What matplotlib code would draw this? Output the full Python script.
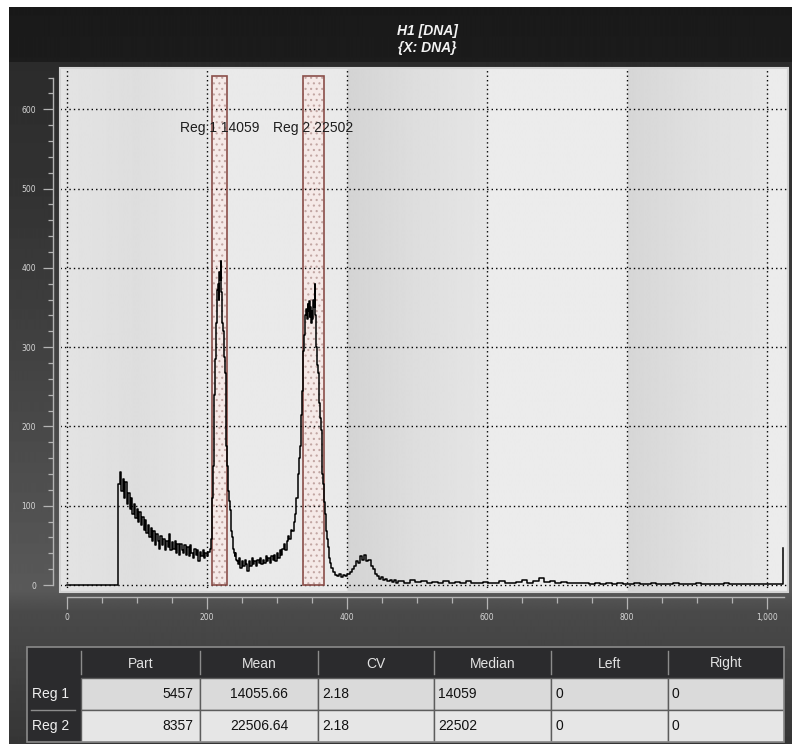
import numpy as np
import matplotlib
matplotlib.use("Agg")
import matplotlib.pyplot as plt
from matplotlib.patches import Rectangle
from matplotlib.ticker import MultipleLocator, FuncFormatter

# ---- data ------------------------------------------------------------------
# DNA histogram, channel -> count (step histogram)
ch_zero = [0]
cnt_zero = [0]

ch_a = list(range(74, 206, 2))
cnt_a = [128, 142, 118, 134, 110, 130, 102, 116, 96, 110,
         90, 102, 84, 96, 80, 92, 76, 86, 70, 82,
         66, 76, 60, 72, 56, 68, 50, 64, 56, 46,
         62, 50, 58, 44, 56, 48, 64, 44, 54, 46,
         56, 40, 52, 38, 52, 44, 40, 50, 38, 48,
         36, 50, 40, 34, 46, 38, 44, 30, 42, 36,
         44, 34, 40, 36, 42, 46]

ch_b = list(range(206, 244))
cnt_b = [58, 75, 110, 150, 200, 240, 285, 330, 365, 372,
         380, 360, 395, 385, 408, 370, 330, 320, 305, 288,
         268, 230, 175, 150, 128, 118, 106, 95, 80, 68,
         60, 52, 46, 40, 36, 40, 32, 30]

ch_c = list(range(244, 333, 2))
cnt_c = [26, 34, 22, 30, 24, 32, 26, 18, 30, 24,
         34, 26, 30, 24, 32, 28, 34, 26, 32, 28,
         36, 30, 34, 28, 36, 32, 38, 30, 40, 34,
         44, 38, 46, 52, 44, 56, 62, 58, 70, 68,
         80, 90, 110, 140, 160]

ch_d = list(range(333, 377))
cnt_d = [175, 190, 215, 245, 270, 295, 315, 330, 340, 348,
         335, 355, 345, 358, 338, 350, 330, 345, 335, 360,
         350, 380, 340, 300, 290, 278, 268, 250, 230, 210,
         195, 170, 140, 128, 118, 105, 90, 78, 68, 58,
         48, 40, 34, 28]

ch_e = list(range(377, 474, 3))
cnt_e = [22, 16, 13, 12, 14, 10, 13, 11, 14, 16,
         20, 24, 30, 28, 36, 32, 38, 30, 32, 24,
         20, 14, 12, 8, 10, 6, 8, 5, 6, 4,
         6, 3, 5]

ch_f = list(range(474, 1022, 8))
cnt_f = [5, 3, 6, 4, 5, 2, 4, 3, 5, 2,
         4, 3, 5, 2, 3, 4, 2, 3, 5, 2,
         3, 4, 6, 3, 5, 9, 4, 5, 3, 4,
         2, 3, 2, 3, 1, 2, 1, 3, 1, 2,
         1, 1, 2, 1, 1, 2, 1, 1, 1, 2,
         1, 1, 1, 2, 1, 1, 1, 1, 2, 1,
         1, 1, 1, 1, 1, 1, 1, 1, 1]

ch_end = [1023]
cnt_end = [47]

channels = ch_zero + ch_a + ch_b + ch_c + ch_d + ch_e + ch_f + ch_end
counts = cnt_zero + cnt_a + cnt_b + cnt_c + cnt_d + cnt_e + cnt_f + cnt_end

# gated regions
reg_names = ["Reg 1", "Reg 2"]
reg_left = [208, 337]
reg_right = [229, 367]

# statistics table
col_names = ["Part", "Mean", "CV", "Median", "Left", "Right"]
reg_part = [5457, 8357]
reg_mean = ["14055.66", "22506.64"]
reg_cv = ["2.18", "2.18"]
reg_median = [14059, 22502]
reg_lft = [0, 0]
reg_rgt = [0, 0]

title_lines = ["H1 [DNA]", "{X: DNA}"]

# ---- layout helpers ----------------------------------------------------------
W, H = 792, 744
fig = plt.figure(figsize=(W / 100, H / 100), dpi=100, facecolor="white")


def fbox(l, t, r, b):
    return [l / W, 1 - b / H, (r - l) / W, (b - t) / H]


# dark panel behind everything
bg = fig.add_axes(fbox(9, 7, 792, 744))
bg.axis("off")
rows = np.arange(7, 744)
prof = np.interp(rows, [7, 61, 62, 200, 590, 612, 744],
                 [0.10, 0.11, 0.17, 0.20, 0.35, 0.29, 0.21])
bg.imshow(np.repeat(prof[:, None], 2, axis=1), cmap="gray", vmin=0, vmax=1,
          aspect="auto", extent=[0, 1, 0, 1], origin="upper")

# ---- histogram plot ----------------------------------------------------------
ax = fig.add_axes(fbox(60, 68, 788, 592))
xmin, xmax, ymin, ymax = -9.5, 1030, -8.8, 652
ax.set_xlim(xmin, xmax)
ax.set_ylim(ymin, ymax)
ax.set_facecolor("none")

xs = np.linspace(xmin, xmax, 900)
shade = np.interp(xs, [xmin, 0, 100, 200, 200.1, 400, 400.1, 500, 600, 600.1,
                       800, 800.1, 900, 1000, 1000.1, xmax],
                  [0.90, 0.89, 0.87, 0.90, 0.915, 0.915, 0.83, 0.87, 0.90,
                   0.925, 0.925, 0.84, 0.875, 0.90, 0.925, 0.925])
ax.imshow(shade[None, :], cmap="gray", vmin=0, vmax=1, aspect="auto",
          extent=[xmin, xmax, ymin, ymax], zorder=0, interpolation="bilinear")

ax.grid(True, which="major", color="black", linestyle=(0, (1, 2.2)),
        linewidth=1.0, zorder=2.5)
ax.set_axisbelow(False)

plt.rcParams["hatch.linewidth"] = 0.8
gate_top = 642
for name, l, r, med in zip(reg_names, reg_left, reg_right, reg_median):
    ax.add_patch(Rectangle((l, 0), r - l, gate_top, facecolor="#f5e9e7",
                           edgecolor="none", zorder=1.5))
    ax.add_patch(Rectangle((l, 0), r - l, gate_top, fill=False, hatch="...",
                           edgecolor="#c2a6a3", linewidth=0, zorder=1.6))
    ax.add_patch(Rectangle((l, 0), r - l, gate_top, fill=False,
                           edgecolor="#8a4e49", linewidth=1.2, zorder=3))
    ax.text((l + r) / 2, 576, f"{name} {med}", ha="center", va="center",
            fontsize=10, family="Liberation Sans", color="#1e1e1e", zorder=5)

ax.plot(channels, counts, drawstyle="steps-post", color="black",
        linewidth=1.1, zorder=4)

for side in ["top", "right"]:
    ax.spines[side].set_visible(False)
ax.spines["left"].set_position(("outward", 5))
ax.spines["left"].set_bounds(0, 640)
ax.spines["bottom"].set_position(("outward", 3.6))
ax.spines["bottom"].set_bounds(0, 1024)
for side in ["left", "bottom"]:
    ax.spines[side].set_color("#b4b4b4")
    ax.spines[side].set_linewidth(1.0)

ax.add_patch(Rectangle((0, 0), 1, 1, transform=ax.transAxes, fill=False,
                       edgecolor="#d4d4d4", linewidth=1.5, zorder=6,
                       clip_on=False))

ax.xaxis.set_major_locator(MultipleLocator(200))
ax.xaxis.set_minor_locator(MultipleLocator(50))
ax.yaxis.set_major_locator(MultipleLocator(100))
ax.yaxis.set_minor_locator(MultipleLocator(20))
ax.xaxis.set_major_formatter(FuncFormatter(lambda v, p: f"{int(v):,}"))
ax.yaxis.set_major_formatter(FuncFormatter(lambda v, p: f"{int(v)}"))
ax.tick_params(axis="y", which="major", length=7.2, width=0.9,
               color="#b4b4b4", labelsize=5.5, labelcolor="#d6d6d6", pad=5)
ax.tick_params(axis="y", which="minor", length=3.6, width=0.9,
               color="#b4b4b4")
ax.tick_params(axis="x", which="major", length=8.6, width=0.9,
               color="#b4b4b4", labelsize=5.5, labelcolor="#d6d6d6", pad=3)
ax.tick_params(axis="x", which="minor", length=4.3, width=0.9,
               color="#b4b4b4")

# title
for i, line in enumerate(title_lines):
    fig.text(427 / W, 1 - (31 + 17 * i) / H, line, ha="center", va="center",
             fontsize=10, family="Liberation Sans", weight="bold",
             style="italic", color="#f2f2f2")

# ---- statistics table --------------------------------------------------------
col_w = [54, 119, 118, 116, 117, 117, 116]
row_h = [31, 32, 32]
col_align = ["right", "center", "left", "left", "left", "left"]
tab = fig.add_axes(fbox(27, 647, 784, 742))
tab.set_xlim(0, sum(col_w))
tab.set_ylim(sum(row_h), 0)
tab.axis("off")

edges_x = np.concatenate([[0], np.cumsum(col_w)])
edges_y = np.concatenate([[0], np.cumsum(row_h)])
body = [[f"{p}", m, c, f"{md}", f"{lf}", f"{rt}"]
        for p, m, c, md, lf, rt in zip(reg_part, reg_mean, reg_cv,
                                       reg_median, reg_lft, reg_rgt)]
row_fill = ["#dadada", "#e6e6e6"]

# header row
tab.add_patch(Rectangle((0, 0), sum(col_w), row_h[0], facecolor="#2b2b2d",
                        edgecolor="none"))
for j, name in enumerate(col_names):
    x0, x1 = edges_x[j + 1], edges_x[j + 2]
    tab.text((x0 + x1) / 2, row_h[0] / 2 + 1, name, ha="center", va="center",
             fontsize=10, family="Liberation Sans", color="#e2e2e2")
for j in range(1, len(edges_x) - 1):
    tab.plot([edges_x[j], edges_x[j]], [4, row_h[0] - 4], color="#8c8c8c",
             linewidth=1.0)

for i, name in enumerate(reg_names):
    y0, y1 = edges_y[i + 1], edges_y[i + 2]
    tab.add_patch(Rectangle((0, y0), col_w[0], y1 - y0, facecolor="#2b2b2d",
                            edgecolor="none"))
    tab.text(5, (y0 + y1) / 2, name, ha="left", va="center", fontsize=10,
             family="Liberation Sans", color="#f0f0f0")
    for j, val in enumerate(body[i]):
        x0, x1 = edges_x[j + 1], edges_x[j + 2]
        tab.add_patch(Rectangle((x0, y0), x1 - x0, y1 - y0,
                                facecolor=row_fill[i], edgecolor="#5c5c5c",
                                linewidth=1.0))
        if col_align[j] == "right":
            tx = x1 - 7
        elif col_align[j] == "center":
            tx = (x0 + x1) / 2
        else:
            tx = x0 + 4
        tab.text(tx, (y0 + y1) / 2, val, ha=col_align[j], va="center",
                 fontsize=10, family="Liberation Sans", color="#111111")
tab.plot([4, col_w[0] - 6], [edges_y[2], edges_y[2]], color="#8c8c8c",
         linewidth=1.0)
tab.add_patch(Rectangle((0, 0), sum(col_w), sum(row_h), fill=False,
                        edgecolor="#8a8a8a", linewidth=1.2, clip_on=False))

fig.savefig("out.png", dpi=100, facecolor="white")
